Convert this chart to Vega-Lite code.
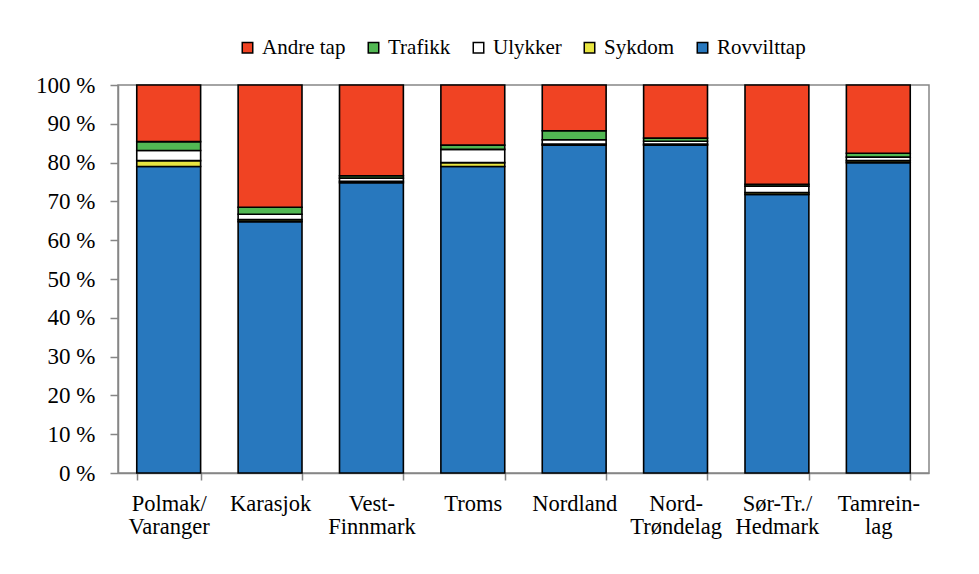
{
  "$schema": "https://vega.github.io/schema/vega-lite/v6.json",
  "autosize": {"type": "none"},
  "width": 811,
  "height": 388,
  "padding": {"left": 118, "top": 85, "right": 50, "bottom": 101},
  "background": "white",
  "data": {"values": [
    {"region": "Polmak/ Varanger", "cause": "Rovvilttap", "rank": 1, "pct": 79.0},
    {"region": "Polmak/ Varanger", "cause": "Sykdom", "rank": 2, "pct": 1.5},
    {"region": "Polmak/ Varanger", "cause": "Ulykker", "rank": 3, "pct": 2.6},
    {"region": "Polmak/ Varanger", "cause": "Trafikk", "rank": 4, "pct": 2.3},
    {"region": "Polmak/ Varanger", "cause": "Andre tap", "rank": 5, "pct": 14.6},
    {"region": "Karasjok", "cause": "Rovvilttap", "rank": 1, "pct": 64.8},
    {"region": "Karasjok", "cause": "Sykdom", "rank": 2, "pct": 0.5},
    {"region": "Karasjok", "cause": "Ulykker", "rank": 3, "pct": 1.4},
    {"region": "Karasjok", "cause": "Trafikk", "rank": 4, "pct": 1.8},
    {"region": "Karasjok", "cause": "Andre tap", "rank": 5, "pct": 31.5},
    {"region": "Vest- Finnmark", "cause": "Rovvilttap", "rank": 1, "pct": 74.8},
    {"region": "Vest- Finnmark", "cause": "Sykdom", "rank": 2, "pct": 0.4},
    {"region": "Vest- Finnmark", "cause": "Ulykker", "rank": 3, "pct": 0.8},
    {"region": "Vest- Finnmark", "cause": "Trafikk", "rank": 4, "pct": 0.6},
    {"region": "Vest- Finnmark", "cause": "Andre tap", "rank": 5, "pct": 23.4},
    {"region": "Troms", "cause": "Rovvilttap", "rank": 1, "pct": 79.0},
    {"region": "Troms", "cause": "Sykdom", "rank": 2, "pct": 1.0},
    {"region": "Troms", "cause": "Ulykker", "rank": 3, "pct": 3.4},
    {"region": "Troms", "cause": "Trafikk", "rank": 4, "pct": 1.1},
    {"region": "Troms", "cause": "Andre tap", "rank": 5, "pct": 15.5},
    {"region": "Nordland", "cause": "Rovvilttap", "rank": 1, "pct": 84.5},
    {"region": "Nordland", "cause": "Sykdom", "rank": 2, "pct": 0.3},
    {"region": "Nordland", "cause": "Ulykker", "rank": 3, "pct": 1.1},
    {"region": "Nordland", "cause": "Trafikk", "rank": 4, "pct": 2.3},
    {"region": "Nordland", "cause": "Andre tap", "rank": 5, "pct": 11.8},
    {"region": "Nord- Trøndelag", "cause": "Rovvilttap", "rank": 1, "pct": 84.5},
    {"region": "Nord- Trøndelag", "cause": "Sykdom", "rank": 2, "pct": 0.3},
    {"region": "Nord- Trøndelag", "cause": "Ulykker", "rank": 3, "pct": 0.7},
    {"region": "Nord- Trøndelag", "cause": "Trafikk", "rank": 4, "pct": 0.8},
    {"region": "Nord- Trøndelag", "cause": "Andre tap", "rank": 5, "pct": 13.7},
    {"region": "Sør-Tr./ Hedmark", "cause": "Rovvilttap", "rank": 1, "pct": 71.8},
    {"region": "Sør-Tr./ Hedmark", "cause": "Sykdom", "rank": 2, "pct": 0.5},
    {"region": "Sør-Tr./ Hedmark", "cause": "Ulykker", "rank": 3, "pct": 1.6},
    {"region": "Sør-Tr./ Hedmark", "cause": "Trafikk", "rank": 4, "pct": 0.5},
    {"region": "Sør-Tr./ Hedmark", "cause": "Andre tap", "rank": 5, "pct": 25.6},
    {"region": "Tamrein- lag", "cause": "Rovvilttap", "rank": 1, "pct": 80.0},
    {"region": "Tamrein- lag", "cause": "Sykdom", "rank": 2, "pct": 0.5},
    {"region": "Tamrein- lag", "cause": "Ulykker", "rank": 3, "pct": 0.9},
    {"region": "Tamrein- lag", "cause": "Trafikk", "rank": 4, "pct": 1.0},
    {"region": "Tamrein- lag", "cause": "Andre tap", "rank": 5, "pct": 17.6}
  ]},
  "mark": {"type": "bar", "stroke": "black", "strokeWidth": 1.6},
  "encoding": {
    "x": {
      "field": "region", "type": "nominal", "sort": null,
      "scale": {"paddingInner": 0.37, "paddingOuter": 0.185},
      "axis": {
        "title": null, "labelAngle": 0, "labelExpr": "split(datum.label, ' ')",
        "tickBand": "extent", "tickSize": 7, "tickColor": "#868686", "tickWidth": 1.5,
        "domainColor": "#868686", "domainWidth": 1.5,
        "labelFont": "Liberation Serif", "labelFontSize": 22.5, "labelColor": "black",
        "labelPadding": 12, "labelLineHeight": 23.5, "labelBaseline": "top"
      }
    },
    "y": {
      "field": "pct", "type": "quantitative", "stack": "normalize",
      "scale": {"domain": [0, 1], "nice": false},
      "axis": {
        "title": null, "grid": false,
        "values": [0, 0.1, 0.2, 0.3, 0.4, 0.5, 0.6, 0.7, 0.8, 0.9, 1],
        "labelExpr": "round(datum.value * 100) + ' %'",
        "tickSize": 8, "tickColor": "#868686", "tickWidth": 1.5,
        "domainColor": "#868686", "domainWidth": 1.5,
        "labelFont": "Liberation Serif", "labelFontSize": 23, "labelColor": "black",
        "labelPadding": 15
      }
    },
    "color": {
      "field": "cause", "type": "nominal",
      "scale": {
        "domain": ["Andre tap", "Trafikk", "Ulykker", "Sykdom", "Rovvilttap"],
        "range": ["#F04323", "#52B853", "#FFFFFF", "#E8E541", "#2878BE"]
      },
      "legend": {
        "title": null, "orient": "none", "direction": "horizontal",
        "legendX": 119, "legendY": -48,
        "symbolType": "square", "symbolSize": 110, "symbolStrokeColor": "black", "symbolStrokeWidth": 1.5,
        "labelFont": "Liberation Serif", "labelFontSize": 21, "labelColor": "black",
        "labelOffset": 4, "columnPadding": 17
      }
    },
    "order": {"field": "rank", "sort": "ascending"}
  },
  "config": {
    "view": {"stroke": "#868686", "strokeWidth": 1.5}
  }
}
